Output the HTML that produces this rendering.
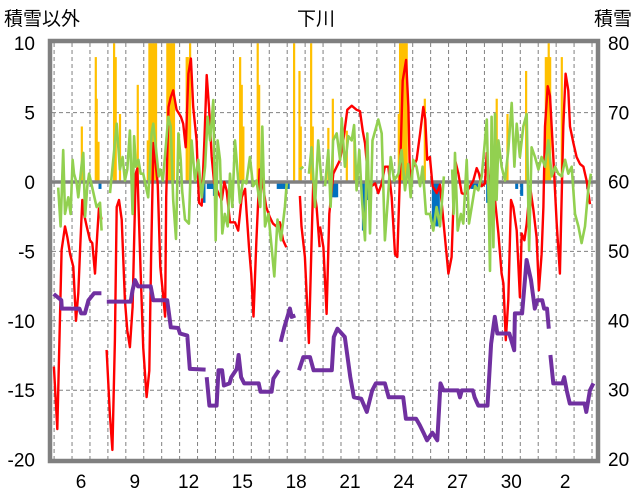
<!DOCTYPE html>
<html><head><meta charset="utf-8">
<style>
html,body{margin:0;padding:0;background:#fff;}
svg{display:block;font-family:"Liberation Sans","Noto Sans CJK JP",sans-serif;}
</style></head>
<body>
<svg id="chart" width="636" height="501" viewBox="0 0 636 501" xmlns="http://www.w3.org/2000/svg">
<text x="4" y="25" font-size="19" fill="#000">積雪以外</text>
<text x="316" y="25" font-size="19" fill="#000" text-anchor="middle">下川</text>
<text x="632" y="25" font-size="19" fill="#000" text-anchor="end">積雪</text>
</svg>
<script>
// ---- data ----
const xTickLabels = ["6","9","12","15","18","21","24","27","30","2"];
const xTickDays = [6,9,12,15,18,21,24,27,30,33];
const leftTicks = [10,5,0,-5,-10,-15,-20];
const rightTicks = [80,70,60,50,40,30,20];

const redT = [4.49,4.68,4.92,5.11,5.24,5.39,5.57,5.72,5.85,5.94,6.07,6.17,6.32,6.50,6.63,6.78,6.91,7.00,7.15,
 7.43,7.62,7.75,7.89,7.99,8.12,8.27,8.45,8.58,8.73,8.88,9.05,9.14,9.33,9.47,9.66,9.81,9.91,10.04,10.28,10.42,10.57,10.69,10.75,10.88,11.0,11.14,11.33,11.57,11.70,11.84,
 11.99,12.13,12.26,12.45,12.58,12.73,12.88,13.01,13.14,13.29,13.43,13.66,13.85,13.99,14.12,14.31,14.59,14.77,14.96,15.15,15.24,15.37,15.49,15.62,15.78,15.96,16.15,16.33,16.52,16.71,16.90,17.09,17.27,17.45,
 18.21,18.30,18.49,18.71,18.86,18.95,19.14,19.31,
 19.33,19.52,19.70,19.85,19.98,20.07,20.26,20.45,20.63,20.85,21.10,21.37,21.56,21.71,21.84,22.03,22.21,22.40,22.58,22.77,22.95,23.14,23.33,23.51,23.64,23.79,23.94,24.13,24.26,24.35,24.53,24.72,24.91,25.09,25.20,25.31,25.46,25.61,25.84,26.02,26.24,26.49,26.67,
 26.86,27.05,27.23,27.42,27.70,27.88,28.07,28.20,28.35,28.53,28.63,28.72,28.90,29.09,29.28,29.46,29.56,29.69,29.83,29.98,30.11,30.30,30.48,30.58,30.73,30.86,31.04,31.23,31.41,31.54,31.69,31.79,31.88,32.03,32.16,32.34,32.53,32.71,32.90,33.03,33.18,33.27,33.46,33.64,33.83,34.02,34.20,34.39];
const redV = [-13.3,-17.8,-4.9,-3.2,-4.0,-5.2,-6.1,-10.0,-8.0,-5.2,-1.3,-2.3,-3.2,-4.2,-4.4,-6.6,-3.7,-1.9,-2.7,
 -12.1,-16.9,-19.3,-11.4,-1.8,-1.3,-2.7,-8.5,-10.7,-11.9,-9.0,0.6,0.97,-6.6,-11.9,-15.5,-13.6,-5.4,2.8,-0.1,-6.1,-8.0,-9.7,-1.1,5.4,6.1,6.6,5.2,4.7,4.2,2.5,
 7.8,8.9,5.4,3.0,-1.5,-1.7,3.0,7.7,5.4,1.8,-0.1,-0.8,-1.3,0.0,-0.6,-2.9,-2.9,-3.5,-1.1,-0.5,-2.3,-4.7,-6.6,-9.7,-4.2,0.9,-0.3,-1.8,-2.5,-3.0,-3.2,-2.9,-4.2,-4.7,
 -1.0,-3.2,-5.4,-11.6,-4.2,-0.1,-1.8,-4.7,
 -3.2,-4.7,-9.5,-2.3,-0.6,0.6,1.1,1.6,3.0,5.2,5.5,5.2,5.1,3.7,2.8,0.1,-0.3,-0.1,-0.8,-0.1,1.1,1.1,-1.1,-5.2,-5.4,0.6,7.3,8.8,5.4,0.1,1.1,1.6,3.5,5.4,4.5,1.6,1.8,-0.3,-0.8,-0.2,-3.2,-6.6,-5.4,
 1.6,0.6,-0.8,-0.9,-0.3,0.1,1.0,0.6,-0.3,-0.1,2.1,0.6,-0.6,-1.3,-3.7,-6.6,-7.3,-11.4,-8.5,-1.3,-1.8,-3.5,-8.3,-3.7,-4.2,-3.0,-0.3,-2.0,-4.0,-7.8,-5.2,-1.8,4.0,6.9,6.2,1.8,-3.0,-6.6,4.0,7.8,6.6,4.0,2.8,1.8,1.3,1.1,0.1,-1.6];
const redBreaks = [19,84,92];

const greenT = [4.73,4.86,5.01,5.11,5.29,5.42,5.53,5.61,5.76,5.85,6.04,6.13,6.23,6.35,6.45,6.87,7.06,7.15,
 7.62,7.89,7.99,8.17,8.32,8.45,8.58,8.73,8.88,8.96,9.06,9.20,9.33,9.47,9.75,9.94,10.03,10.17,10.34,10.42,10.57,10.87,11.0,11.14,11.30,11.43,11.56,11.64,11.80,12.02,12.17,12.36,12.54,12.73,12.92,13.06,13.20,13.38,13.51,13.62,13.75,13.88,14.02,14.18,14.31,14.44,14.59,14.74,14.87,15.03,15.22,15.42,15.60,15.79,16.0,16.11,16.26,16.45,16.63,16.78,16.96,17.15,17.37,17.47,
 18.21,18.40,
 18.71,18.86,19.05,19.23,19.41,
 19.61,19.79,19.92,20.06,20.26,20.45,20.54,20.72,20.91,21.10,21.23,21.37,21.52,21.66,21.84,21.97,22.12,22.26,22.58,22.77,22.95,23.14,23.27,23.46,23.70,23.88,24.07,24.25,24.39,24.53,24.71,24.91,25.05,25.24,25.46,25.65,25.83,26.02,26.24,
 26.70,26.78,
 26.86,27.01,27.19,27.32,27.51,27.64,27.79,27.98,28.16,28.35,28.53,28.63,28.72,28.81,28.90,29.00,29.09,29.18,29.28,29.46,29.65,29.83,30.02,30.17,30.30,30.48,30.67,30.86,30.99,31.13,31.32,31.51,31.69,31.88,32.06,32.25,32.44,32.62,32.81,33.0,33.18,33.37,33.55,33.74,33.92,34.11,34.29,34.44];
const greenV = [-0.4,-3.2,2.3,-2.3,-1.1,-2.3,1.6,0.6,-0.1,-1.1,1.3,2.1,-2.5,-0.3,0.6,-1.8,-1.5,-3.5,
 -0.8,2.8,4.2,0.9,1.8,0.1,0.9,3.7,-2.3,3.3,1.1,1.6,0.6,0.6,-1.1,3.5,4.2,2.5,0.4,0.9,0.1,4.7,4.0,-1.3,-4.1,3.5,1.6,-0.6,-2.7,-3.0,3.0,0.1,1.6,-1.1,1.1,4.7,3.0,5.9,-4.2,3.0,1.6,-3.7,-2.3,-3.2,0.6,-1.8,3.0,0.6,-1.5,0.1,-0.1,1.8,-0.3,0.1,-1.8,4.0,-3.2,-2.3,-4.7,-6.8,-2.7,-4.2,-1.8,-0.1,
 0.9,1.1,
 0.6,2.5,-1.8,3.0,0.1,
 -0.3,2.3,-1.8,3.0,3.5,1.6,4.6,1.1,3.3,3.0,4.1,-0.6,2.3,-1.1,-4.2,3.5,-3.7,3.0,4.5,3.5,-4.2,-0.8,1.8,0.1,0.6,2.3,-0.6,1.3,-1.1,1.6,1.1,-0.3,1.1,-2.3,-2.3,-3.5,-1.8,-3.2,0.4,
 0.9,-2.3,
 2.1,-3.5,-2.3,-3.0,1.6,-3.0,-1.8,-0.3,-0.6,0.4,3.0,4.5,-0.6,-6.4,4.7,-4.7,4.9,-1.3,3.0,1.1,0.1,2.3,5.7,1.1,4.2,1.8,4.0,4.9,-4.9,2.5,1.8,0.9,1.8,1.1,3.0,0.4,1.1,0.6,0.4,1.6,0.6,1.1,-2.3,-3.2,-4.4,-3.2,-0.6,0.6];
const greenBreaks = [18,82,84,89,128];

const snowT = [4.48,4.90,4.93,5.91,6.01,6.22,6.42,6.73,7.14,
 7.44,8.77,8.87,9.01,9.18,9.89,10.03,10.81,11.01,11.42,11.52,11.93,12.07,12.95,
 13.01,13.16,13.56,13.67,13.87,13.97,14.28,14.38,14.69,14.79,14.93,15.10,15.91,16.01,16.63,16.73,17.03,
 17.14,17.34,17.65,17.75,17.95,
 18.16,18.40,18.77,18.97,19.99,20.10,20.30,20.71,21.02,21.22,21.63,21.94,22.24,22.44,22.95,23.16,23.97,24.12,24.69,24.89,25.10,25.30,25.60,25.87,26.05,26.22,27.03,27.14,27.24,27.85,27.95,28.16,28.67,28.87,29.08,29.22,29.89,30.16,30.20,30.60,30.85,31.10,31.31,31.45,31.72,31.83,31.99,32.09,
 32.18,32.34,32.85,32.95,33.09,33.26,34.08,34.18,34.38,34.58];
const snowV = [43.8,42.9,41.7,41.7,41.0,41.0,42.9,43.9,43.9,
 42.7,42.7,44.3,45.8,44.9,44.9,42.9,42.9,39.0,38.9,38.1,37.8,33.0,32.9,
 31.8,27.7,27.7,32.8,32.8,30.6,30.9,31.8,33.0,35.0,31.8,30.9,30.9,29.7,29.7,31.6,32.8,
 36.9,39.0,41.7,40.5,40.7,
 32.8,34.7,34.7,32.8,32.8,37.6,38.8,37.6,31.8,28.9,28.7,26.8,29.9,30.9,30.9,28.9,28.9,25.8,25.8,24.9,23.8,22.7,23.8,22.7,30.9,29.9,29.9,28.9,29.9,29.9,28.9,27.7,27.7,36.6,40.5,38.1,38.1,35.7,41.0,41.0,48.7,45.8,41.7,42.9,42.9,41.7,41.7,38.8,
 35.0,30.9,30.9,31.8,29.9,28.0,28.0,26.8,29.9,30.9];
const snowBreaks = [9,23,40,45,93];

const yellowT = [6.04,6.82,6.87,6.97,7.84,7.93,8.17,9.16,9.72,9.81,9.90,10.0,10.09,10.18,10.81,10.90,11.0,11.09,11.18,11.89,11.95,12.08,14.87,14.96,15.05,15.85,15.93,17.88,18.18,18.25,18.83,18.92,19.79,20.04,20.82,21.24,23.72,23.79,23.88,23.97,24.06,24.16,25.17,29.18,29.78,30.82,31.92,32.0,32.08,32.16,32.81];
const yellowV = [4.0,9.0,6.0,2.9,10,9.0,4.9,7.0,3.0,10,10,10,10,10,10,10,10,10,10,9.0,9.0,10,9.0,7.0,4.0,10,7.0,10,8.0,4.0,10,4.0,3.9,6.0,3.7,3.0,4.9,10,10,10,10,10,6.0,6.0,4.9,8.0,9.0,9.0,10,9.0,9.0];
const blueT = [7.06,12.86,13.10,13.20,13.30,13.38,13.44,17.0,17.15,17.30,17.45,17.56,20.07,20.17,20.26,21.75,22.03,25.65,25.75,25.85,25.93,27.80,27.90,28.0,28.07,28.68,30.30,30.58,34.26];
const blueV = [-0.5,-1.5,-0.5,-0.5,-0.5,-0.5,-1.0,-0.5,-0.5,-0.5,-0.5,-0.5,-1.1,-1.1,-1.1,-3.5,-1.3,-3.0,-3.0,-3.2,-3.0,-0.5,-0.5,-0.5,-0.5,-1.5,-0.5,-1.0,-0.5];

// ---- scales ----
const PL=52, PR=596, PT=43, PB=459;
function xS(t){ return 81 + (t-6)*17.93; }
function yL(v){ return 182 - v*13.88; }
function yR(v){ return PB - (v-20)*6.933; }

const svg = document.getElementById('chart');
const NS='http://www.w3.org/2000/svg';
function mk(tag, attrs){ const e=document.createElementNS(NS,tag); for(const k in attrs) e.setAttribute(k,attrs[k]); svg.appendChild(e); return e; }

const defs = mk('defs',{});
const cp = document.createElementNS(NS,'clipPath'); cp.setAttribute('id','plotclip');
const cr = document.createElementNS(NS,'rect'); cr.setAttribute('x',PL); cr.setAttribute('y',PT); cr.setAttribute('width',PR-PL); cr.setAttribute('height',PB-PT);
cp.appendChild(cr); defs.appendChild(cp);

for(let d=5; d<=35; d++){
  const x = xS(d-0.5);
  if(x<=PL+2||x>=PR-2) continue;
  const g = mk('line',{x1:x,x2:x,y1:PT,y2:PB,stroke:'#808080','stroke-width':1,'stroke-dasharray':'4,3'});
  
  
}
leftTicks.forEach(v=>{
  const y=yL(v);
  if(v!==0 && v>-20 && v<10){
    const g=mk('line',{x1:PL,x2:PR,y1:y,y2:y,stroke:'#808080','stroke-width':1,'stroke-dasharray':'4,3'});
    
    
  }
  const t=mk('text',{x:35,y:y+7,'font-size':19,'text-anchor':'end',fill:'#000'});
  t.textContent=v;
  
  
});
rightTicks.forEach(v=>{
  const t=mk('text',{x:608,y:yR(v)+7,'font-size':19,'text-anchor':'start',fill:'#000'});
  t.textContent=v;
  
  
});
xTickLabels.forEach((lab,i)=>{
  const t=mk('text',{x:xS(xTickDays[i]),y:488,'font-size':19,'text-anchor':'middle',fill:'#000'});
  t.textContent=lab;
  
  
});

yellowT.forEach((t,i)=>{
  const y=yL(Math.min(yellowV[i],10.2));
  const b=mk('rect',{x:xS(t)-1,y:y,width:2.2,height:yL(0)-y,fill:'#FFC000','clip-path':'url(#plotclip)'});
  
  
});
blueT.forEach((t,i)=>{
  const y0=yL(0);
  const b=mk('rect',{x:xS(t)-1.5,y:y0,width:3,height:yL(blueV[i])-y0,fill:'#0070C0'});
  
  
});
const z=mk('line',{x1:PL,x2:PR,y1:yL(0),y2:yL(0),stroke:'#808080','stroke-width':3.5});



function seriesPath(T,V,breaks,ys){
  let d='';
  for(let i=0;i<T.length;i++){
    const cmd = (i===0||breaks.indexOf(i)>=0)?'M':'L';
    d+=cmd+xS(T[i]).toFixed(1)+','+ys(V[i]).toFixed(1)+' ';
  }
  return d;
}
const red=mk('path',{d:seriesPath(redT,redV,redBreaks,yL),fill:'none',stroke:'#FF0000','stroke-width':2.4,'stroke-linejoin':'round','clip-path':'url(#plotclip)'});


const green=mk('path',{d:seriesPath(greenT,greenV,greenBreaks,yL),fill:'none',stroke:'#92D050','stroke-width':2.6,'stroke-linejoin':'round','clip-path':'url(#plotclip)'});


const snow=mk('path',{d:seriesPath(snowT,snowV,snowBreaks,yR),fill:'none',stroke:'#7030A0','stroke-width':4,'stroke-linejoin':'round','clip-path':'url(#plotclip)'});



const br=mk('rect',{x:PL-2,y:PT-2,width:PR-PL+4,height:PB-PT+4,fill:'none',stroke:'#808080','stroke-width':4.5});


</script>
</body></html>
